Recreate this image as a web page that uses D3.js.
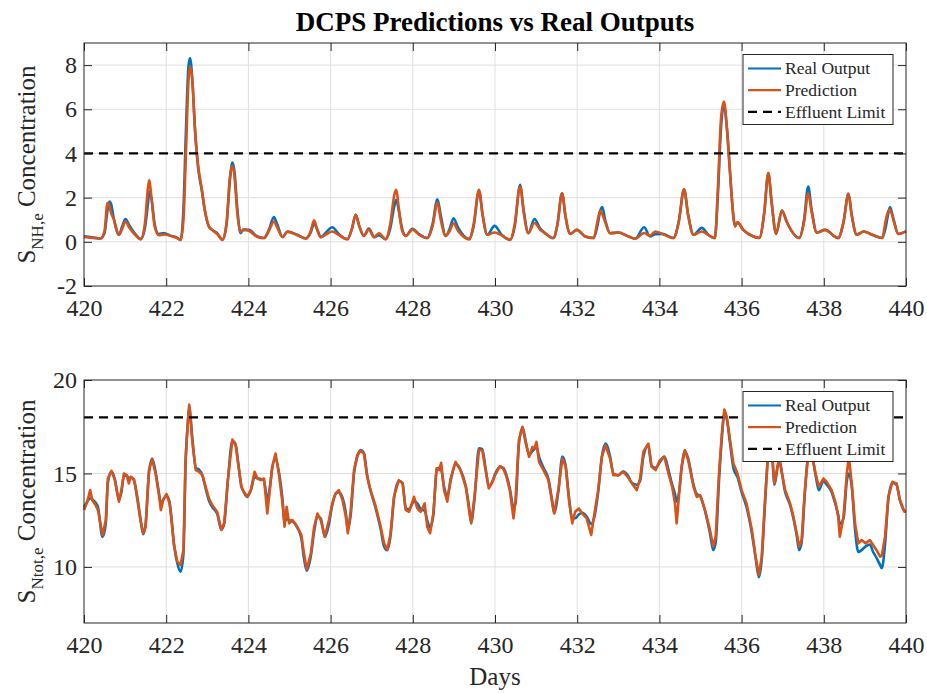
<!DOCTYPE html>
<html>
<head>
<meta charset="utf-8">
<script src="https://cdn.jsdelivr.net/npm/d3@7"></script>
<style>
  body { margin: 0; background: #fff; }
  text { font-family: "Liberation Serif", "Times New Roman", serif; fill: #262626; }
</style>
</head>
<body>
<svg id="chart" width="927" height="693"></svg>
<script>
// ---- S_NH,e (ammonia) effluent concentration ----
const topDays = [420.00,420.20,420.40,420.50,420.57,420.62,420.66,420.72,420.85,420.93,421.01,421.10,421.25,421.38,421.48,421.56,421.59,421.64,421.72,421.82,421.94,422.10,422.25,422.35,422.42,422.48,422.54,422.58,422.64,422.70,422.78,422.86,422.95,423.04,423.12,423.24,423.37,423.47,423.55,423.61,423.66,423.73,423.81,423.88,424.01,424.22,424.38,424.50,424.62,424.70,424.83,424.95,425.19,425.40,425.51,425.60,425.67,425.76,425.90,426.04,426.20,426.41,426.52,426.61,426.70,426.81,426.93,427.06,427.18,427.34,427.45,427.56,427.60,427.66,427.74,427.83,427.99,428.15,428.35,428.48,428.60,428.68,428.80,428.90,428.99,429.10,429.37,429.48,429.61,429.70,429.81,429.99,430.16,430.37,430.48,430.61,430.70,430.81,430.96,431.10,431.22,431.42,431.52,431.63,431.72,431.83,431.99,432.20,432.40,432.50,432.56,432.61,432.68,432.80,433.00,433.25,433.41,433.63,433.77,433.90,434.07,434.34,434.47,434.60,434.70,434.83,435.03,435.20,435.35,435.42,435.50,435.57,435.64,435.72,435.80,435.84,435.90,436.04,436.29,436.43,436.55,436.65,436.73,436.84,436.98,437.10,437.20,437.40,437.52,437.62,437.70,437.83,438.03,438.35,438.48,438.60,438.68,438.80,438.97,439.18,439.42,439.50,439.55,439.61,439.70,439.81,440.00];
const topReal = [0.25,0.20,0.15,0.40,1.40,1.82,1.70,1.10,0.32,0.70,1.03,0.75,0.35,0.12,0.60,1.80,2.28,2.00,0.80,0.35,0.40,0.28,0.20,0.09,1.50,5.00,7.90,8.32,7.20,5.10,3.30,2.40,1.30,0.69,0.54,0.39,0.09,0.80,2.80,3.59,3.20,1.50,0.39,0.55,0.54,0.24,0.17,0.55,1.12,0.80,0.21,0.47,0.32,0.15,0.40,0.81,0.60,0.21,0.45,0.66,0.35,0.12,0.60,1.22,0.70,0.27,0.60,0.21,0.30,0.12,0.60,1.70,1.90,1.40,0.60,0.27,0.59,0.35,0.17,0.80,1.93,1.20,0.27,0.60,1.07,0.65,0.12,0.70,2.30,1.20,0.32,0.72,0.32,0.09,0.70,2.58,1.40,0.39,1.03,0.60,0.39,0.17,0.80,2.20,1.10,0.36,0.54,0.24,0.17,0.80,1.40,1.57,1.00,0.39,0.42,0.24,0.14,0.66,0.24,0.35,0.36,0.17,0.90,2.38,1.20,0.32,0.63,0.30,0.17,2.00,5.20,6.20,5.20,3.10,1.15,0.70,0.88,0.54,0.24,0.17,1.30,3.11,1.80,0.36,1.42,0.90,0.54,0.17,1.00,2.50,1.50,0.42,0.54,0.17,0.90,2.17,1.20,0.32,0.47,0.32,0.17,0.60,1.10,1.57,1.00,0.36,0.47];
const topPred = [0.22,0.18,0.15,0.50,1.75,1.60,1.30,1.05,0.32,0.60,0.92,0.65,0.30,0.12,0.80,2.50,2.80,2.00,0.70,0.30,0.33,0.28,0.18,0.08,1.00,4.00,7.20,7.94,7.20,5.10,3.40,2.45,1.35,0.69,0.54,0.35,0.09,0.90,2.90,3.44,3.00,1.30,0.45,0.55,0.50,0.22,0.17,0.50,0.92,0.65,0.22,0.45,0.30,0.15,0.45,0.97,0.55,0.21,0.35,0.47,0.30,0.12,0.60,1.22,0.70,0.27,0.55,0.21,0.39,0.12,0.80,2.20,2.35,1.50,0.50,0.27,0.55,0.32,0.17,0.70,1.78,1.00,0.27,0.50,0.84,0.50,0.12,0.80,2.35,1.20,0.32,0.42,0.30,0.09,0.80,2.50,1.30,0.39,0.85,0.55,0.39,0.17,0.80,2.20,1.10,0.36,0.54,0.24,0.17,1.00,1.42,1.25,0.90,0.39,0.42,0.24,0.14,0.40,0.28,0.47,0.36,0.17,0.90,2.38,1.20,0.32,0.47,0.30,0.17,2.30,5.60,6.35,5.20,3.10,1.15,0.70,0.88,0.54,0.24,0.17,1.30,3.11,1.80,0.36,1.42,0.90,0.54,0.17,0.90,2.20,1.40,0.42,0.54,0.17,0.90,2.17,1.20,0.32,0.47,0.32,0.17,0.90,1.30,1.45,0.95,0.36,0.47];

// ---- S_Ntot,e (total nitrogen) effluent concentration ----
const botDays = [420.00,420.08,420.15,420.20,420.28,420.34,420.45,420.53,420.58,420.67,420.75,420.85,420.91,420.97,421.04,421.09,421.14,421.22,421.30,421.36,421.44,421.50,421.58,421.66,421.74,421.82,421.87,421.93,422.01,422.08,422.12,422.19,422.27,422.35,422.42,422.47,422.53,422.56,422.64,422.72,422.80,422.88,422.96,423.04,423.12,423.24,423.34,423.41,423.50,423.61,423.69,423.75,423.83,423.89,423.97,424.06,424.15,424.22,424.30,424.38,424.46,424.53,424.58,424.66,424.74,424.83,424.88,424.93,424.99,425.07,425.19,425.29,425.35,425.42,425.52,425.60,425.68,425.76,425.86,425.96,426.04,426.12,426.20,426.29,426.37,426.42,426.49,426.57,426.65,426.73,426.81,426.89,426.97,427.10,427.22,427.30,427.38,427.46,427.54,427.66,427.75,427.83,427.91,428.03,428.11,428.19,428.29,428.35,428.42,428.50,428.58,428.64,428.69,428.76,428.84,428.92,429.04,429.16,429.29,429.37,429.42,429.50,429.61,429.69,429.77,429.85,429.94,430.00,430.12,430.20,430.28,430.36,430.45,430.50,430.58,430.67,430.75,430.83,430.91,430.96,431.01,431.07,431.18,431.30,431.38,431.44,431.54,431.64,431.72,431.80,431.88,431.95,432.04,432.12,432.23,432.34,432.42,432.51,432.60,432.69,432.80,432.88,433.00,433.12,433.23,433.33,433.45,433.53,433.61,433.73,433.81,433.91,434.01,434.12,434.22,434.31,434.38,434.42,434.48,434.54,434.62,434.70,434.83,434.91,434.99,435.11,435.23,435.31,435.37,435.45,435.52,435.58,435.64,435.72,435.80,435.90,436.00,436.12,436.25,436.34,436.42,436.49,436.57,436.64,436.72,436.80,436.91,437.06,437.18,437.26,437.34,437.40,437.46,437.54,437.61,437.68,437.80,437.88,437.99,438.07,438.19,438.29,438.35,438.39,438.48,438.56,438.61,438.68,438.76,438.84,438.92,439.02,439.12,439.20,439.28,439.37,439.41,439.49,439.57,439.67,439.77,439.85,439.96,440.00];
const botReal = [13.20,13.50,13.67,13.62,13.45,13.20,11.60,12.30,14.50,15.10,14.70,13.60,14.00,14.85,14.90,14.70,14.80,14.60,13.70,12.80,11.75,12.30,15.00,15.80,15.10,14.00,13.40,13.60,13.80,13.50,12.80,11.20,10.20,9.75,10.70,15.40,17.80,18.55,16.80,15.30,15.20,14.90,14.20,13.55,13.20,12.85,12.00,12.30,14.60,16.75,16.55,15.60,14.30,14.00,13.75,14.10,14.80,14.75,14.70,14.60,13.60,14.40,15.30,15.80,15.10,13.60,12.40,12.60,12.50,12.45,12.10,11.50,10.50,9.80,10.60,11.90,12.70,12.60,11.60,12.30,13.30,13.90,14.00,13.70,12.90,12.00,12.80,15.00,15.90,16.25,16.10,14.90,14.10,13.10,12.00,11.10,10.90,11.70,13.60,14.60,14.50,13.10,13.10,13.50,13.40,13.10,13.00,12.50,12.10,12.80,15.20,15.30,15.20,14.30,13.80,14.60,15.50,15.20,14.30,13.20,12.40,13.60,16.35,16.30,15.30,14.30,14.60,14.95,15.35,15.30,14.90,14.20,13.20,13.40,16.50,17.45,16.70,16.00,16.20,16.30,16.40,15.90,15.30,14.70,13.70,12.90,14.00,15.90,15.40,13.70,12.60,12.60,12.80,12.90,12.70,12.30,12.70,14.00,15.90,16.60,15.90,15.00,14.90,15.10,14.90,14.50,14.40,14.60,15.90,16.50,15.40,15.30,15.60,15.90,15.20,14.40,13.90,13.50,14.00,15.30,16.20,15.80,14.40,13.90,13.80,13.00,11.80,10.90,11.30,14.60,16.90,18.20,17.90,16.60,15.30,14.80,14.00,13.20,11.80,10.50,9.45,10.40,13.40,15.80,16.50,14.40,15.70,14.00,13.30,12.60,11.70,10.90,11.30,14.00,15.80,16.30,14.90,14.10,14.60,14.40,14.00,13.30,12.80,12.30,12.60,14.60,15.00,14.30,12.00,10.80,10.90,11.10,11.20,10.80,10.50,10.10,9.93,11.20,13.60,14.50,14.40,13.60,13.00,12.95];
const botPred = [13.04,13.49,14.11,13.58,13.31,13.04,11.70,12.50,14.73,15.14,14.64,13.49,14.11,15.00,14.90,14.47,14.82,14.68,13.58,12.69,11.80,12.15,15.18,15.75,15.00,13.93,13.04,13.61,13.90,13.40,12.69,11.17,10.28,10.10,10.90,15.71,17.85,18.68,16.60,15.18,15.09,14.91,14.29,13.67,13.31,12.95,11.98,12.33,14.64,16.81,16.51,15.53,14.29,14.02,13.75,14.11,15.09,14.73,14.64,14.73,12.86,14.29,15.36,16.07,15.00,13.40,12.15,13.22,12.33,12.51,12.15,11.71,10.73,9.88,10.73,12.15,12.86,12.51,11.62,12.51,13.40,13.93,14.11,13.58,12.69,11.80,13.04,15.18,15.98,16.21,16.07,14.82,14.11,13.22,12.15,11.26,10.91,11.80,13.75,14.64,14.47,13.04,12.95,13.75,13.13,12.95,13.40,12.15,11.80,12.86,15.27,15.18,15.57,14.11,13.49,14.73,15.62,15.18,14.29,13.04,12.33,13.75,16.25,16.25,15.18,14.20,14.55,14.91,15.39,15.27,14.82,14.11,12.60,13.58,16.78,17.49,16.60,15.89,16.42,16.33,16.69,15.62,15.18,14.64,13.58,12.86,14.11,15.80,15.36,13.58,12.33,12.95,13.13,12.86,12.60,11.71,12.86,14.11,15.89,16.51,15.80,14.91,14.91,15.09,14.82,14.47,14.11,14.73,16.16,16.60,15.36,15.18,15.71,15.89,15.00,14.29,13.40,12.33,13.93,15.36,16.25,15.71,14.29,13.75,13.84,13.04,11.98,11.09,11.62,15.00,17.14,18.42,18.03,16.78,15.53,15.00,14.11,13.40,11.98,10.55,9.57,10.55,13.58,15.87,16.60,14.47,15.80,14.11,13.40,12.69,11.80,11.09,11.44,14.11,15.80,16.30,15.00,14.29,14.73,14.55,14.11,13.40,12.69,11.62,12.69,15.00,15.89,14.47,12.33,11.26,11.44,11.26,11.44,11.17,10.91,10.55,10.60,11.62,13.75,14.55,14.47,13.58,12.95,12.95];

// ---- axes, limits, labels ----
const xTicks = [420, 422, 424, 426, 428, 430, 432, 434, 436, 438, 440];
const topYTicks = [-2, 0, 2, 4, 6, 8];
const botYTicks = [10, 15, 20];
const topLimit = 4;
const botLimit = 18;
const legendLabels = ["Real Output", "Prediction", "Effluent Limit"];
const realColor = "#0072BD";
const predColor = "#D95319";
const serif = "'Liberation Serif', 'Times New Roman', serif";

const svg = d3.select("#chart");
const left = 84, right = 906;
const x = d3.scaleLinear().domain([420, 440]).range([left, right]);

svg.append("text")
  .attr("x", (left + right) / 2).attr("y", 31)
  .attr("text-anchor", "middle")
  .style("font-size", "27px").style("font-weight", "bold")
  .style("fill", "#000")
  .text("DCPS Predictions vs Real Outputs");

function panel(cfg) {
  const y = d3.scaleLinear().domain(cfg.yDomain).range([cfg.bottom, cfg.top]);
  const g = svg.append("g");

  // grid
  g.append("g").selectAll("line").data(xTicks.slice(1, -1)).join("line")
    .attr("x1", d => x(d)).attr("x2", d => x(d))
    .attr("y1", cfg.top).attr("y2", cfg.bottom)
    .attr("stroke", "#dfdfdf").attr("stroke-width", 1);
  g.append("g").selectAll("line").data(cfg.yTicks.filter(v => v > cfg.yDomain[0] && v < cfg.yDomain[1])).join("line")
    .attr("x1", left).attr("x2", right)
    .attr("y1", d => y(d)).attr("y2", d => y(d))
    .attr("stroke", "#dfdfdf").attr("stroke-width", 1);

  // series
  const pts = cfg.days.map((d, i) => i);
  const line = (vals, curve) => d3.line()
    .x(i => x(cfg.days[i])).y(i => y(vals[i]))
    .curve(curve)(pts);
  g.append("path").attr("d", line(cfg.real, d3.curveMonotoneX))
    .attr("fill", "none").attr("stroke", realColor).attr("stroke-width", 2.6)
    .attr("stroke-linejoin", "round");
  g.append("path").attr("d", line(cfg.pred, cfg.predCurve))
    .attr("fill", "none").attr("stroke", predColor).attr("stroke-width", 2.6)
    .attr("stroke-linejoin", "round");

  // effluent limit
  g.append("line")
    .attr("x1", left).attr("x2", right)
    .attr("y1", y(cfg.limit)).attr("y2", y(cfg.limit))
    .attr("stroke", "#000").attr("stroke-width", 2.2)
    .attr("stroke-dasharray", "9,6");

  // axes with inward ticks on all four sides
  const ax = g.append("g").attr("transform", `translate(0,${cfg.bottom})`)
    .call(d3.axisBottom(x).tickValues(xTicks).tickSize(-8).tickPadding(13).tickFormat(d3.format("d")));
  const ay = g.append("g").attr("transform", `translate(${left},0)`)
    .call(d3.axisLeft(y).tickValues(cfg.yTicks).tickSize(-8).tickPadding(7).tickFormat(d => d < 0 ? "-" + Math.abs(d) : String(d)));
  const at = g.append("g").attr("transform", `translate(0,${cfg.top})`)
    .call(d3.axisTop(x).tickValues(xTicks).tickSize(-8).tickFormat(""));
  const ar = g.append("g").attr("transform", `translate(${right},0)`)
    .call(d3.axisRight(y).tickValues(cfg.yTicks).tickSize(-8).tickFormat(""));
  [ax, ay, at, ar].forEach(a => {
    a.attr("font-family", serif).attr("font-size", 24);
    a.select(".domain").remove();
    a.selectAll(".tick line").attr("stroke", "#262626");
    a.selectAll("text").attr("fill", "#262626");
  });

  g.append("rect")
    .attr("x", left).attr("y", cfg.top)
    .attr("width", right - left).attr("height", cfg.bottom - cfg.top)
    .attr("fill", "none").attr("stroke", "#262626").attr("stroke-width", 1);

  // y label with subscript
  const cy = (cfg.top + cfg.bottom) / 2;
  const lab = g.append("text")
    .attr("transform", `translate(35,${cy}) rotate(-90)`)
    .attr("text-anchor", "middle")
    .style("font-size", "25px");
  lab.append("tspan").text("S");
  lab.append("tspan").attr("dy", 8).style("font-size", "17px").text(cfg.sub);
  lab.append("tspan").attr("dy", -8).text(" Concentration");

  // legend
  const lx = 743, lw = 150, ly = cfg.legendTop, lh = 70;
  const lg = g.append("g");
  lg.append("rect").attr("x", lx).attr("y", ly).attr("width", lw).attr("height", lh)
    .attr("fill", "#fff").attr("stroke", "#262626").attr("stroke-width", 1);
  const rows = [
    { c: realColor, dash: null },
    { c: predColor, dash: null },
    { c: "#000", dash: "9,6" }
  ];
  rows.forEach((r, i) => {
    const ry = ly + 14 + i * 21.7;
    lg.append("line").attr("x1", lx + 5).attr("x2", lx + 38)
      .attr("y1", ry).attr("y2", ry)
      .attr("stroke", r.c).attr("stroke-width", 2.2)
      .attr("stroke-dasharray", r.dash);
    lg.append("text").attr("x", lx + 42).attr("y", ry).attr("dy", "0.33em")
      .style("font-size", "17.5px").text(legendLabels[i]);
  });
}

panel({
  top: 43, bottom: 286, yDomain: [-2, 9], yTicks: topYTicks,
  days: topDays, real: topReal, pred: topPred, limit: topLimit,
  predCurve: d3.curveMonotoneX, sub: "NH,e", legendTop: 54.5
});
panel({
  top: 380, bottom: 623, yDomain: [7, 20], yTicks: botYTicks,
  days: botDays, real: botReal, pred: botPred, limit: botLimit,
  predCurve: d3.curveLinear, sub: "Ntot,e", legendTop: 391.5
});

svg.append("text")
  .attr("x", (left + right) / 2).attr("y", 685)
  .attr("text-anchor", "middle")
  .style("font-size", "25px")
  .text("Days");
</script>
</body>
</html>
